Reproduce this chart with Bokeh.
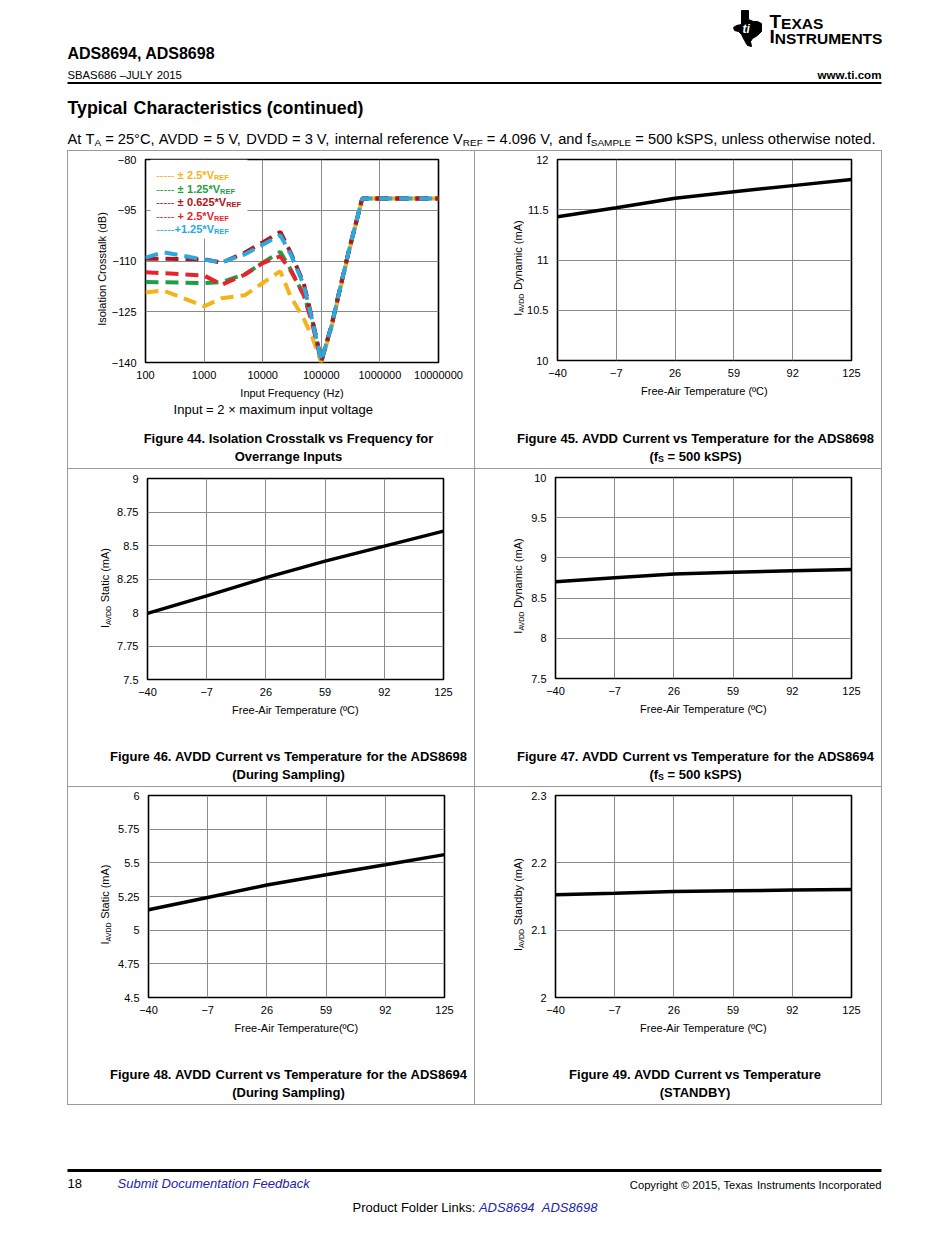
import math
import re
from bokeh.plotting import figure
from bokeh.models import Range1d, FixedTicker, Label, Spacer
from bokeh.layouts import column, row
from bokeh.embed import file_html
from bokeh.resources import INLINE

FONT = "Liberation Sans"

# ---------------- Figure 44 data ----------------
freq_hz = [100, 200, 1000, 2000, 5000, 10000, 20000, 30000, 50000, 70000,
           100000, 150000, 200000, 300000, 500000, 1000000, 10000000]
crosstalk_pm2p5 = [-119.3, -118.7, -123.4, -121.0, -120.1, -116.5, -113.0, -120.5, -127.0, -132.5,
                   -140.0, -129.5, -120.0, -107.0, -91.5, -91.5, -91.5]
crosstalk_pm1p25 = [-116.2, -116.3, -116.5, -116.2, -113.9, -110.5, -107.3, -112.5, -120.0, -127.5,
                    -139.5, -129.0, -119.5, -106.5, -91.5, -91.5, -91.5]
crosstalk_p2p5 = [-113.3, -113.6, -114.3, -117.0, -114.0, -110.6, -108.6, -112.8, -120.0, -128.5,
                  -139.8, -129.0, -119.5, -106.5, -91.5, -91.5, -91.5]
crosstalk_pm0p625 = [-109.3, -109.3, -109.5, -110.5, -107.5, -104.5, -101.4, -107.5, -116.5, -127.0,
                     -139.5, -129.0, -119.5, -106.5, -91.5, -91.5, -91.5]
crosstalk_p1p25 = [-109.0, -107.4, -109.6, -110.4, -108.0, -105.2, -102.4, -108.0, -117.0, -127.5,
                   -139.5, -129.0, -119.5, -106.5, -91.5, -91.5, -91.5]
legend_labels = ["± 2.5*V", "± 1.25*V", "± 0.625*V", "+ 2.5*V", "+1.25*V"]
legend_colors = ["#f5b21a", "#1f9e4a", "#b0141c", "#e8242b", "#29a9e0"]
freq_ticks = [100, 1000, 10000, 100000, 1000000, 10000000]
freq_tick_labels = ["100", "1000", "10000", "100000", "1000000", "10000000"]
xtalk_ticks = [-140, -125, -110, -95, -80]
xtalk_tick_labels = ["−140", "−125", "−110", "−95", "−80"]

# ---------------- Figures 45-49 data ----------------
temp_c = [-40, -7, 26, 59, 92, 125]
temp_tick_labels = ["−40", "−7", "26", "59", "92", "125"]
iavdd_dyn_8698 = [11.43, 11.52, 11.615, 11.68, 11.74, 11.80]
iavdd_static_8698 = [7.993, 8.124, 8.26, 8.383, 8.495, 8.607]
iavdd_dyn_8694 = [8.704, 8.754, 8.80, 8.82, 8.84, 8.857]
iavdd_static_8694 = [5.151, 5.243, 5.335, 5.412, 5.486, 5.561]
iavdd_standby = [2.1527, 2.1549, 2.1574, 2.1586, 2.1595, 2.1604]

ticks_45 = [10, 10.5, 11, 11.5, 12]
labels_45 = ["10", "10.5", "11", "11.5", "12"]
ticks_46 = [7.5, 7.75, 8, 8.25, 8.5, 8.75, 9]
labels_46 = ["7.5", "7.75", "8", "8.25", "8.5", "8.75", "9"]
ticks_47 = [7.5, 8, 8.5, 9, 9.5, 10]
labels_47 = ["7.5", "8", "8.5", "9", "9.5", "10"]
ticks_48 = [4.5, 4.75, 5, 5.25, 5.5, 5.75, 6]
labels_48 = ["4.5", "4.75", "5", "5.25", "5.5", "5.75", "6"]
ticks_49 = [2, 2.1, 2.2, 2.3]
labels_49 = ["2", "2.1", "2.2", "2.3"]

# ---------------- text metrics (Arial / Liberation Sans) ----------------
_U = "ABCDEFGHIJKLMNOPQRSTUVWXYZ"
_L = "abcdefghijklmnopqrstuvwxyz"
_REG_U = [667,667,722,722,667,611,778,722,278,500,667,556,833,722,778,667,778,722,667,611,722,667,944,667,667,611]
_REG_L = [556,556,500,556,556,278,556,556,222,222,500,222,833,556,556,556,556,333,500,278,556,500,722,500,500,500]
_BLD_U = [722,722,722,722,667,611,778,722,278,556,722,611,833,722,778,667,778,722,667,611,722,667,944,667,667,611]
_BLD_L = [556,611,556,611,556,333,611,611,278,278,556,278,889,611,611,611,611,389,556,333,611,556,778,556,556,500]
_PUNCT = {" ": 278, ".": 278, ",": 278, ":": 278, "-": 333, "(": 333, ")": 333, "*": 389,
          "+": 584, "=": 584, "×": 584, "±": 584, "°": 400, "º": 365, "©": 737, "–": 556,
          "−": 584, "/": 278}
W_REG = dict(zip(_U, _REG_U)); W_REG.update(zip(_L, _REG_L)); W_REG.update(_PUNCT)
W_BLD = dict(zip(_U, _BLD_U)); W_BLD.update(zip(_L, _BLD_L)); W_BLD.update(_PUNCT)
for d in "0123456789":
    W_REG[d] = 556
    W_BLD[d] = 556

MID = 0.3465  # distance (em) from the baseline up to the middle of the ascent/descent box
SUB_DROP = 0.1  # subscript baseline drop (em of the main text)


def tw(s, size, bold=False):
    t = W_BLD if bold else W_REG
    return sum(t.get(c, 556) for c in s) * size / 1000.0


def put(p, anchor, dx, dy, text, size, style="normal", color="black", align="left", angle=0.0):
    """dx, dy: pixel position of the text baseline start, measured from the anchor (down = +)."""
    if angle:
        dx = dx - MID * size
    else:
        dy = dy - MID * size
    p.add_layout(Label(x=anchor[0], y=anchor[1], x_offset=dx, y_offset=-dy, text=text,
                       text_font=FONT, text_font_size="%.2fpx" % size, text_font_style=style,
                       text_color=color, text_align=align, text_baseline="middle",
                       angle=angle))


def segs_width(segs, size, bold, subf):
    return sum(tw(t, size * subf if k == "s" else size, bold) for t, k in segs)


def put_segs(p, anchor, x, base, segs, size, style="normal", color="black", align="left", subf=0.68):
    """Place text made of normal/subscript segments word by word (avoids kerning drift)."""
    bold = "bold" in style
    total = segs_width(segs, size, bold, subf)
    if align == "center":
        x -= total / 2.0
    elif align == "right":
        x -= total
    for t, k in segs:
        s = size * subf if k == "s" else size
        for part in re.split(r"( +)", t):
            if part.strip():
                put(p, anchor, x, base + (SUB_DROP * size if k == "s" else 0), part, s, style, color)
            x += tw(part, s, bold)


def put_vsegs(p, anchor, bx, cy, segs, size, subf=0.64):
    """Rotated (bottom-to-top) text made of normal/subscript segments."""
    total = segs_width(segs, size, False, subf)
    y = cy + total / 2.0
    for t, k in segs:
        s = size * subf if k == "s" else size
        for part in re.split(r"( +)", t):
            if part.strip():
                put(p, anchor, bx + (0.15 * size if k == "s" else 0), y, part, s,
                    angle=math.pi / 2)
            y -= tw(part, s)


def blank_fig(w, h):
    p = figure(width=w, height=h, x_range=Range1d(0, w), y_range=Range1d(0, h),
               x_axis_type=None, y_axis_type=None, output_backend="svg", toolbar_location=None,
               min_border=0)
    p.title.visible = False
    p.outline_line_color = None
    p.xgrid.visible = False
    p.ygrid.visible = False
    return p


# ---------------- chart cells ----------------
CELL_W, CELL_H, FRAME_W = 406, 317, 296
GRID = "#8a8a8a"


def make_cell(xr, yr, xticks, xlabels, yticks, ylabels, left, top, fh, split, xlabel,
              ylab_segs, ylab_dx, caption, x_log=False):
    ch = top + fh + 40
    p = figure(width=CELL_W - split, height=ch, x_range=Range1d(*xr), y_range=Range1d(*yr),
               x_axis_type="log" if x_log else "linear", output_backend="svg",
               toolbar_location=None, min_border_left=left - split,
               min_border_right=CELL_W - FRAME_W - left, min_border_top=top,
               min_border_bottom=ch - top - fh)
    p.title.visible = False
    p.outline_line_color = "black"
    p.outline_line_width = 1.6
    for ax, ticks, labels in ((p.xaxis[0], xticks, xlabels), (p.yaxis[0], yticks, ylabels)):
        ax.ticker = FixedTicker(ticks=ticks)
        ax.major_label_overrides = dict(zip(ticks, labels))
        ax.major_tick_in = 0
        ax.major_tick_out = 0
        ax.minor_tick_in = 0
        ax.minor_tick_out = 0
        ax.axis_line_color = None
        ax.major_label_text_font = FONT
        ax.major_label_text_font_size = "11px"
        ax.major_label_text_color = "black"
    p.xaxis[0].major_label_standoff = 8
    p.yaxis[0].major_label_standoff = 9
    p.xaxis[0].axis_label = xlabel
    p.xaxis[0].axis_label_text_font = FONT
    p.xaxis[0].axis_label_text_font_size = "11px"
    p.xaxis[0].axis_label_text_font_style = "normal"
    p.xaxis[0].axis_label_text_color = "black"
    p.xaxis[0].axis_label_standoff = 5
    p.xgrid[0].ticker = FixedTicker(ticks=xticks)
    p.ygrid[0].ticker = FixedTicker(ticks=yticks)
    for g in (p.xgrid[0], p.ygrid[0]):
        g.grid_line_color = GRID
        g.grid_line_width = 1

    ylab = blank_fig(split, ch)
    put_vsegs(ylab, (0, ch), left + ylab_dx, top + fh / 2.0, ylab_segs, 11)

    cap_h = CELL_H - ch
    cap = blank_fig(CELL_W, cap_h)
    put_segs(cap, (0, cap_h), 220, 291.2 - ch, caption[0], 13, "bold", align="center")
    put_segs(cap, (0, cap_h), 220, 309.2 - ch, caption[1], 13, "bold", align="center")
    cell = column(row(ylab, p), cap)
    return p, cell, cap, ch


temp_xlabel = "Free-Air Temperature (ºC)"

# Figure 44
f44, c44, cap44, ch44 = make_cell((100, 10000000), (-140, -80), freq_ticks, freq_tick_labels,
                                  xtalk_ticks, xtalk_tick_labels, 74, 8, 203, 40,
                                  "Input Frequency (Hz)", [("Isolation Crosstalk (dB)", "n")], -36.5,
                                  [[("Figure 44. Isolation Crosstalk vs Frequency for", "n")],
                                   [("Overrange Inputs", "n")]], x_log=True)
a44 = (100, -80)
_lx = lambda px: 10 ** (2 + 5 * px / 296.0)
_ly = lambda py: -80 - 60 * py / 203.0
f44.quad(left=[_lx(5)], right=[_lx(103)], top=[_ly(0)], bottom=[_ly(79)],
         fill_color="white", line_color=None)
for vals, col in ((crosstalk_pm2p5, legend_colors[0]), (crosstalk_pm1p25, legend_colors[1]),
                  (crosstalk_p2p5, legend_colors[3]), (crosstalk_pm0p625, legend_colors[2]),
                  (crosstalk_p1p25, legend_colors[4])):
    f44.line(freq_hz, vals, line_color=col, line_width=4, line_dash="13 7")
for i, (lab, col) in enumerate(zip(legend_labels, legend_colors)):
    base = 19.7 + 13.5 * i
    put(f44, a44, 10.7, base, "-----", 11, color=col)
    gap = tw("----- ", 11) if i < 4 else tw("-----", 11)
    put_segs(f44, a44, 10.7 + gap, base, [(lab, "n"), ("REF", "s")], 11, "bold", color=col)
put_segs(cap44, (0, CELL_H - ch44), 204.8, 263.0 - ch44,
         [("Input = 2 × maximum input voltage", "n")], 13, align="center")

ylab_dyn = [("I", "n"), ("AVDD", "s"), (" Dynamic (mA)", "n")]
ylab_static = [("I", "n"), ("AVDD", "s"), (" Static (mA)", "n")]
ylab_stby = [("I", "n"), ("AVDD", "s"), (" Standby (mA)", "n")]
fs_line = [("(f", "n"), ("S", "s"), (" = 500 kSPS)", "n")]

f45, c45, _, _ = make_cell((-40, 125), (10, 12), temp_c, temp_tick_labels, ticks_45, labels_45,
                           80, 8, 201, 49, temp_xlabel, ylab_dyn, -33.6,
                           [[("Figure 45. AVDD Current vs Temperature for the ADS8698", "n")], fs_line])
f45.line(temp_c, iavdd_dyn_8698, line_color="black", line_width=3.5)

f46, c46, _, _ = make_cell((-40, 125), (7.5, 9), temp_c, temp_tick_labels, ticks_46, labels_46,
                           79, 9, 201, 44, temp_xlabel, ylab_static, -38.3,
                           [[("Figure 46. AVDD Current vs Temperature for the ADS8698", "n")],
                            [("(During Sampling)", "n")]])
f46.line(temp_c, iavdd_static_8698, line_color="black", line_width=3.5)

f47, c47, _, _ = make_cell((-40, 125), (7.5, 10), temp_c, temp_tick_labels, ticks_47, labels_47,
                           80, 8, 201, 50, temp_xlabel, ylab_dyn, -33.3,
                           [[("Figure 47. AVDD Current vs Temperature for the ADS8694", "n")], fs_line])
f47.line(temp_c, iavdd_dyn_8694, line_color="black", line_width=3.5)

f48, c48, _, _ = make_cell((-40, 125), (4.5, 6), temp_c, temp_tick_labels, ticks_48, labels_48,
                           80, 8, 202, 44, "Free-Air Temperature(ºC)", ylab_static, -39.3,
                           [[("Figure 48. AVDD Current vs Temperature for the ADS8694", "n")],
                            [("(During Sampling)", "n")]])
f48.line(temp_c, iavdd_static_8694, line_color="black", line_width=3.5)

f49, c49, _, _ = make_cell((-40, 125), (2, 2.3), temp_c, temp_tick_labels, ticks_49, labels_49,
                           80, 8, 202, 50, temp_xlabel, ylab_stby, -33.3,
                           [[("Figure 49. AVDD Current vs Temperature", "n")], [("(STANDBY)", "n")]])
f49.line(temp_c, iavdd_standby, line_color="black", line_width=3.5)

# ---------------- page header / footer ----------------
PAGE_W = 934
HDR_H, FTR_H, FTR_Y0 = 150, 128, 1105
header = blank_fig(PAGE_W, HDR_H)
ha = (0, HDR_H)
hyd = lambda py: HDR_H - py

logo_px = [(741, 10), (748, 10), (748, 19), (753, 21), (757, 21), (761, 23), (761, 31), (757, 35),
           (752, 38), (750, 41), (751, 46), (747, 45), (744, 40), (741, 34), (738, 31), (734, 30),
           (733, 27), (736, 25), (741, 24)]
header.patch([a for a, b in logo_px], [hyd(b) for a, b in logo_px], fill_color="black",
             line_color="black")
put(header, ha, 742, 33, "ti", 12, "bold italic", color="white")
put(header, ha, 769, 28, "T", 19, "bold")
put(header, ha, 769 + tw("T", 19, True), 28, "EXAS", 15.5, "bold")
put(header, ha, 769, 43, "I", 19, "bold")
put(header, ha, 769 + tw("I", 19, True), 43, "NSTRUMENTS", 15.5, "bold")

put(header, ha, 67, 59, "ADS8694, ADS8698", 16, "bold")
put_segs(header, ha, 67, 78, [("SBAS686 –JULY 2015", "n")], 11.3)
put(header, ha, 881, 78, "www.ti.com", 11.6, "bold", align="right")
header.line([67, 881], [hyd(82.5), hyd(82.5)], line_color="black", line_width=2)
title_segs = [("Typical Characteristics (continued)", "n")]
put_segs(header, ha, 67, 114, title_segs, 296 / segs_width(title_segs, 1, True, 0.68), "bold")
cond_segs = [("At T", "n"), ("A", "s"),
             (" = 25°C, AVDD = 5 V, DVDD = 3 V, internal reference V", "n"), ("REF", "s"),
             (" = 4.096 V, and f", "n"), ("SAMPLE", "s"),
             (" = 500 kSPS, unless otherwise noted.", "n")]
cond_size = 808 / segs_width(cond_segs, 1, False, 0.68)
put_segs(header, ha, 67, 144, cond_segs, cond_size)

footer = blank_fig(PAGE_W, FTR_H)
fa = (0, FTR_H)
fy = lambda py: py - FTR_Y0
fyd = lambda py: FTR_H - (py - FTR_Y0)
BLUE = "#2323b0"
footer.line([67, 881], [fyd(1170), fyd(1170)], line_color="black", line_width=3)
put(footer, fa, 67, fy(1188), "18", 13)
put_segs(footer, fa, 117, fy(1188), [("Submit Documentation Feedback", "n")], 13, "italic", color=BLUE)
put_segs(footer, fa, 881, fy(1188), [("Copyright © 2015, Texas Instruments Incorporated", "n")],
         11.2, align="right")
pf = "Product Folder Links: "
put_segs(footer, fa, 352, fy(1212), [(pf, "n")], 13)
x_links = 352 + tw(pf, 13)
put(footer, fa, x_links, fy(1212), "ADS8694", 13, "italic", color=BLUE)
put(footer, fa, x_links + tw("ADS8694  ", 13), fy(1212), "ADS8698", 13, "italic", color=BLUE)

# ---------------- table layout ----------------
LINE = "#9a9a9a"


def hbar():
    return Spacer(width=815, height=1, styles={"background-color": LINE})


def vbar():
    return Spacer(width=1, height=CELL_H, styles={"background-color": LINE})


table = column(hbar(), row(vbar(), c44, vbar(), c45, vbar()),
               hbar(), row(vbar(), c46, vbar(), c47, vbar()),
               hbar(), row(vbar(), c48, vbar(), c49, vbar()),
               hbar())
middle = row(Spacer(width=67, height=955), table)
page = column(header, middle, footer)

open("out.html", "w").write(file_html(page, INLINE))
